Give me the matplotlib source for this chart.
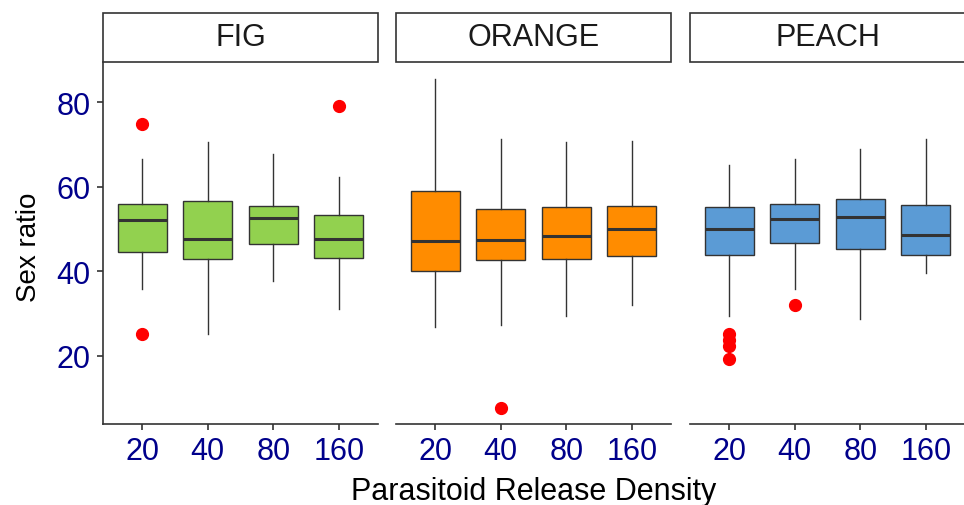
import matplotlib
matplotlib.use("Agg")
import matplotlib.pyplot as plt
from matplotlib.patches import Rectangle

plt.rcParams['font.family'] = ['Liberation Sans', 'DejaVu Sans']

densities = ["20", "40", "80", "160"]
fruits = ["FIG", "ORANGE", "PEACH"]
fruit_colors = ["#92D14F", "#FF8C00", "#5B9BD5"]

# five-number summaries per fruit, per density (20, 40, 80, 160)
fig_whislo = [35.8, 25.1, 37.6, 31.1]
fig_q1     = [44.5, 42.8, 46.4, 43.2]
fig_med    = [52.2, 47.6, 52.5, 47.6]
fig_q3     = [55.9, 56.6, 55.5, 53.4]
fig_whishi = [66.6, 70.7, 67.8, 62.4]
fig_fliers = [[74.9, 25.1], [], [], [79.2]]

orange_whislo = [26.7, 27.3, 29.4, 32.0]
orange_q1     = [40.1, 42.7, 42.8, 43.5]
orange_med    = [47.2, 47.3, 48.4, 50.0]
orange_q3     = [59.0, 54.7, 55.1, 55.5]
orange_whishi = [85.5, 71.3, 70.5, 70.8]
orange_fliers = [[], [7.7], [], []]

peach_whislo = [29.5, 35.8, 28.7, 39.6]
peach_q1     = [43.9, 46.6, 45.2, 43.9]
peach_med    = [50.0, 52.4, 52.9, 48.5]
peach_q3     = [55.1, 56.0, 57.2, 55.7]
peach_whishi = [65.2, 66.6, 68.9, 71.3]
peach_fliers = [[25.2, 23.8, 22.4, 19.2], [32.0], [], []]

y_ticks = [20, 40, 60, 80]

summaries = [
    (fig_whislo, fig_q1, fig_med, fig_q3, fig_whishi, fig_fliers),
    (orange_whislo, orange_q1, orange_med, orange_q3, orange_whishi, orange_fliers),
    (peach_whislo, peach_q1, peach_med, peach_q3, peach_whishi, peach_fliers),
]

W, H = 964, 506
fig = plt.figure(figsize=(W / 100, H / 100), dpi=100)

panel_left = [103, 396, 690]
panel_w = 275
panel_top, panel_bot = 63, 425
strip_top = 14

tick_color = "#00008B"
line_color = "#333333"
fs = 22

for i, (name, col, summ) in enumerate(zip(fruits, fruit_colors, summaries)):
    x0 = panel_left[i] / W
    ax = fig.add_axes([x0, (H - panel_bot) / H, panel_w / W, (panel_bot - panel_top) / H])
    wl, q1, md, q3, wh, fl = summ
    stats = []
    for j in range(len(densities)):
        stats.append(dict(whislo=wl[j], q1=q1[j], med=md[j], q3=q3[j], whishi=wh[j],
                          fliers=fl[j], label=densities[j]))
    ax.bxp(stats, positions=range(1, 5), widths=0.75, patch_artist=True,
           showcaps=False,
           boxprops=dict(facecolor=col, edgecolor=line_color, linewidth=1.0),
           medianprops=dict(color=line_color, linewidth=2.2),
           whiskerprops=dict(color=line_color, linewidth=1.0),
           flierprops=dict(marker='o', markerfacecolor='red', markeredgecolor='red',
                           markersize=8.5, linestyle='none'))
    ax.set_xlim(0.4, 4.6)
    ax.set_ylim(3.83, 89.54)
    ax.set_xticks(range(1, 5))
    ax.set_xticklabels(densities, color=tick_color, fontsize=fs)
    ax.set_yticks(y_ticks)
    for s in ['top', 'right']:
        ax.spines[s].set_visible(False)
    ax.spines['bottom'].set_color(line_color)
    ax.spines['bottom'].set_linewidth(1.2)
    ax.tick_params(axis='x', length=4, width=1.2, color=line_color, pad=5)
    if i == 0:
        ax.spines['left'].set_color(line_color)
        ax.spines['left'].set_linewidth(1.2)
        ax.set_yticklabels([str(t) for t in y_ticks], color=tick_color, fontsize=fs)
        ax.tick_params(axis='y', length=4, width=1.2, color=line_color, pad=5)
    else:
        ax.spines['left'].set_visible(False)
        ax.tick_params(axis='y', left=False, labelleft=False)
    # strip
    sx = x0
    sy = (H - panel_top) / H
    sw = panel_w / W
    sh = (panel_top - strip_top) / H
    fig.patches.append(Rectangle((sx, sy), sw, sh, transform=fig.transFigure,
                                 facecolor='white', edgecolor=line_color, linewidth=1.2))
    fig.text(sx + sw / 2, sy + sh / 2, name, ha='center', va='center',
             fontsize=fs, color="#1A1A1A")

fig.text(28.5 / W, (H - 247.5) / H, "Sex ratio", rotation=90,
         ha='center', va='center', fontsize=20, color="black")
fig.text((103 + 964) / 2 / W, (H - 492) / H, "Parasitoid Release Density",
         ha='center', va='center', fontsize=fs, color="black")

fig.savefig("out.png", dpi=100)
